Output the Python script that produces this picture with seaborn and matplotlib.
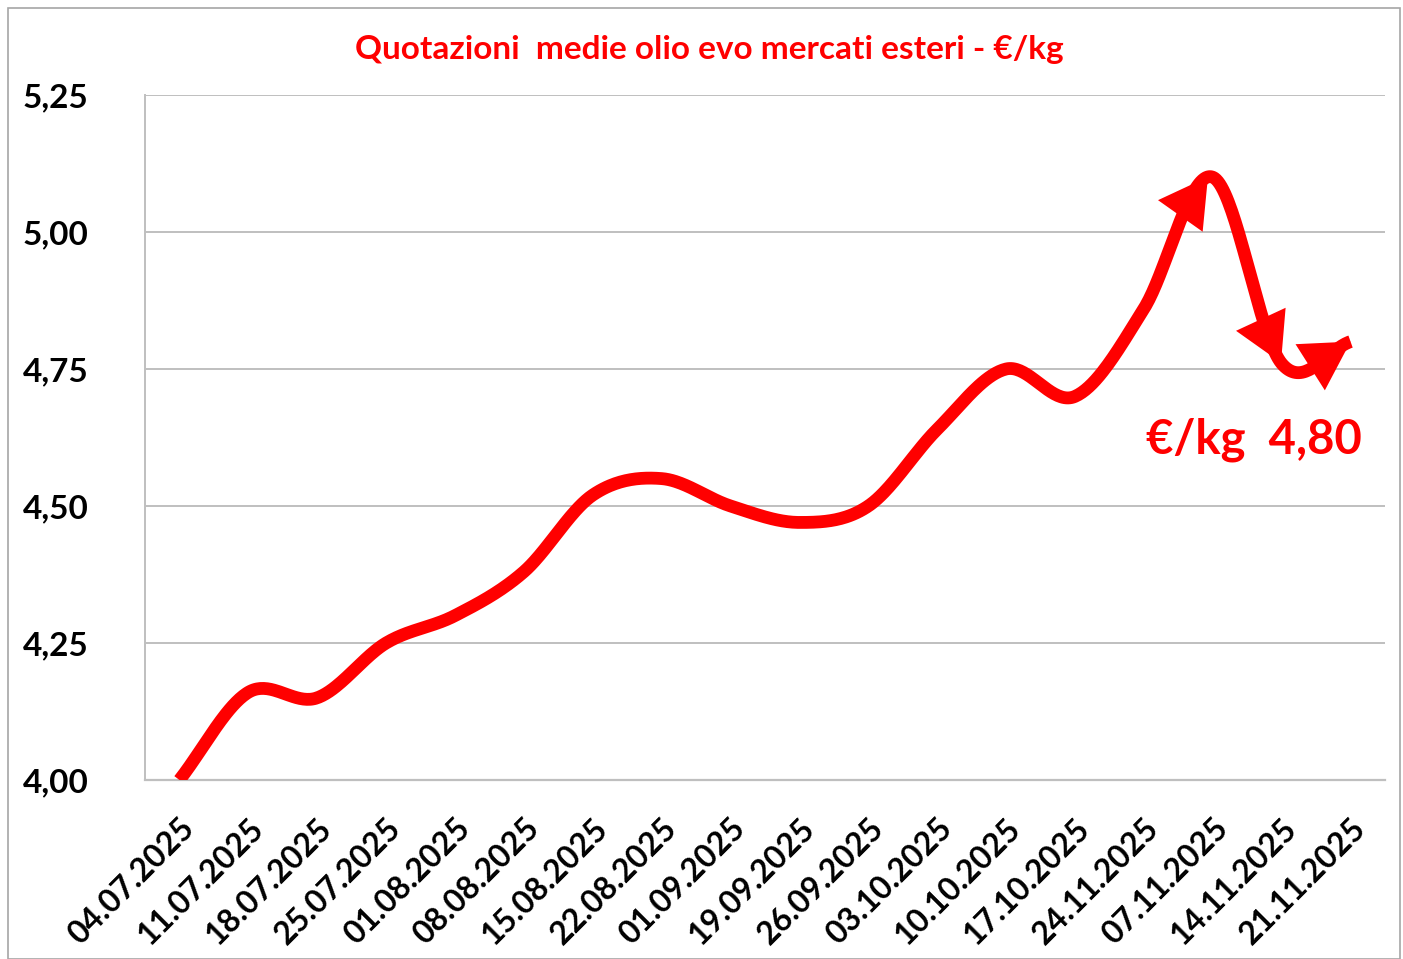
import numpy as np
import pandas as pd
import matplotlib
matplotlib.use("Agg")
import matplotlib.pyplot as plt
import seaborn as sns
from matplotlib.patches import Rectangle

# ---- data ----
dates = ["04.07.2025", "11.07.2025", "18.07.2025", "25.07.2025", "01.08.2025",
         "08.08.2025", "15.08.2025", "22.08.2025", "01.09.2025", "19.09.2025",
         "26.09.2025", "03.10.2025", "10.10.2025", "17.10.2025", "24.11.2025",
         "07.11.2025", "14.11.2025", "21.11.2025"]
prices = [4.00, 4.16, 4.15, 4.25, 4.30, 4.38, 4.52, 4.55, 4.50, 4.47,
          4.50, 4.64, 4.75, 4.70, 4.86, 5.10, 4.76, 4.80]
y_ticks = [4.00, 4.25, 4.50, 4.75, 5.00, 5.25]
y_tick_labels = ["4,00", "4,25", "4,50", "4,75", "5,00", "5,25"]
title = "Quotazioni  medie olio evo mercati esteri - €/kg"
last_label = "€/kg  4,80"

RED = "#FF0000"
GRID = "#BFBFBF"

sns.set_theme(style="white")
plt.rcParams["font.family"] = ["Lato", "DejaVu Sans"]

fig = plt.figure(figsize=(14.03, 9.59), dpi=100)
ax = fig.add_axes([145 / 1403, 1 - 780 / 959, (1385 - 145) / 1403, (780 - 95) / 959])

# smooth (Excel-like) curve through the data points: cubic Hermite / Catmull-Rom
x = np.arange(len(prices), dtype=float)
y = np.array(prices)
m = np.zeros_like(y)
m[1:-1] = (y[2:] - y[:-2]) / 2
m[0] = y[1] - y[0]
m[-1] = y[-1] - y[-2]


def curve(seg, t):
    h00 = 2 * t**3 - 3 * t**2 + 1
    h10 = t**3 - 2 * t**2 + t
    h01 = -2 * t**3 + 3 * t**2
    h11 = t**3 - t**2
    return (x[seg] + t,
            h00 * y[seg] + h10 * m[seg] + h01 * y[seg + 1] + h11 * m[seg + 1])


xs, ys = [], []
tt = np.linspace(0, 1, 40, endpoint=False)
for i in range(len(x) - 1):
    cx, cy = curve(i, tt)
    xs.extend(cx)
    ys.extend(cy)
xs.append(x[-1])
ys.append(y[-1])
smooth = pd.DataFrame({"pos": xs, "price": ys})

sns.lineplot(data=smooth, x="pos", y="price", ax=ax, color=RED, lw=9.2,
             solid_capstyle="butt", solid_joinstyle="round", zorder=3)

# arrow heads
def arrow(seg, t_tip, t_tail):
    tip = curve(seg, t_tip)
    tail = curve(seg, t_tail)
    ax.annotate("", xy=tip, xytext=tail,
                arrowprops=dict(arrowstyle="-|>,head_length=0.42,head_width=0.24",
                                mutation_scale=82, color=RED, lw=0,
                                shrinkA=0, shrinkB=0),
                zorder=4, annotation_clip=False)

arrow(14, 0.93, 0.6)
arrow(15, 0.99, 0.8)
arrow(16, 1.0, 0.3)

ax.text(15.6, 4.62, last_label, color=RED, fontsize=34,
        fontweight="bold", ha="center", va="center", zorder=5)

ax.set_xlim(-0.5, len(x) - 0.5)
ax.set_ylim(4.0, 5.25)
ax.set_yticks(y_ticks)
ax.set_yticklabels(y_tick_labels, fontsize=24, fontweight="bold", color="black")
ax.set_xticks(x)
ax.set_xticklabels(dates, rotation=45, ha="right", rotation_mode="anchor",
                   fontsize=23, fontweight="bold", color="black")
ax.tick_params(axis="both", length=0)
ax.tick_params(axis="y", pad=88)
ax.tick_params(axis="x", pad=24)
ax.set_xlabel("")
ax.set_ylabel("")
for yt in y_ticks[1:]:
    ax.axhline(yt, color=GRID, lw=1.4, zorder=1)
for side in ["top", "right"]:
    ax.spines[side].set_visible(False)
ax.spines["left"].set_color(GRID)
ax.spines["bottom"].set_color(GRID)
ax.spines["left"].set_linewidth(1.4)
ax.spines["bottom"].set_linewidth(1.6)
for lbl in ax.get_yticklabels():
    lbl.set_horizontalalignment("left")

fig.text(709 / 1403, 1 - 49 / 959, title, color=RED, fontsize=24,
         fontweight="bold", ha="center", va="center")

fig.patches.append(Rectangle((8 / 1403, 0), 1392 / 1403, 1 - 8 / 959,
                             transform=fig.transFigure, fill=False,
                             edgecolor="#A6A6A6", lw=1.2))

fig.savefig("out.png", dpi=100)
